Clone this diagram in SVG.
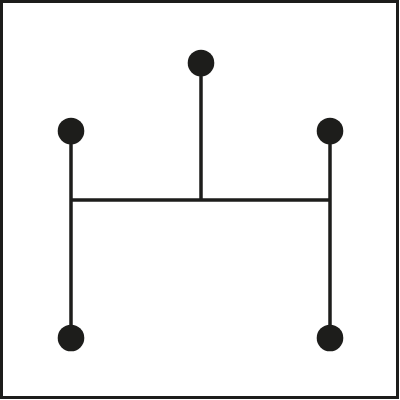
<svg xmlns="http://www.w3.org/2000/svg" width="400" height="400" viewBox="0 0 400 400">
<style>
.ln{stroke:#1d1d1b;stroke-width:3.5;fill:none}
.nd{fill:#1d1d1b}
</style>
<rect x="0" y="0" width="400" height="400" fill="#fff"/>
<rect x="1.5" y="1.5" width="396" height="396" fill="none" stroke="#1d1d1b" stroke-width="3"/>
<g id="connectors">
<line class="ln" x1="201" y1="63" x2="201" y2="200"/>
<line class="ln" x1="71" y1="200" x2="330" y2="200"/>
<line class="ln" x1="71" y1="131" x2="71" y2="338"/>
<line class="ln" x1="330" y1="131" x2="330" y2="338"/>
</g>
<g id="n-top"><circle class="nd" cx="201" cy="63" r="13.3"/></g>
<g id="n-left-top"><circle class="nd" cx="71" cy="131" r="13.3"/></g>
<g id="n-right-top"><circle class="nd" cx="330" cy="131" r="13.3"/></g>
<g id="n-left-bottom"><circle class="nd" cx="71" cy="338" r="13.3"/></g>
<g id="n-right-bottom"><circle class="nd" cx="330" cy="338" r="13.3"/></g>
</svg>
